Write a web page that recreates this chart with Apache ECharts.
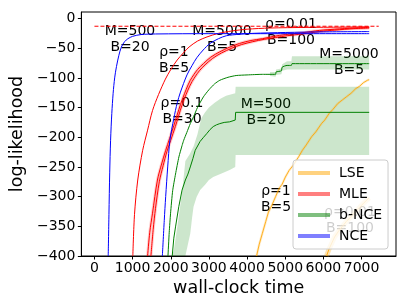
<!DOCTYPE html>
<html><head><meta charset="utf-8">
<script src="https://cdn.jsdelivr.net/npm/echarts@6/dist/echarts.min.js"></script>
<style>html,body{margin:0;padding:0;background:#fff}#c{width:407px;height:305px}</style>
</head><body><div id="c"></div>
<script>
// ---- data ----
var xTicks = [0,1000,2000,3000,4000,5000,6000,7000];
var yTicks = [-400,-350,-300,-250,-200,-150,-100,-50,0];
var legendNames = ['LSE','MLE','b-NCE','NCE'];
var optimum = [[0,-13],[7450,-13]];

var nce500 = [[361,-400],[380,-330],[400,-260],[423,-205],[455,-160],[490,-126],[530,-100],[577,-81],[640,-62],[706,-48],[790,-39],[877,-34],[1000,-30],[1222,-27],[1600,-26],[3000,-25.5],[7200,-25.5]];
var nce5000 = [[1780,-400],[1830,-340],[1867,-300],[1920,-250],[1978,-205],[2081,-168],[2170,-142],[2254,-124],[2425,-95],[2560,-79],[2683,-66],[2850,-53],[3028,-42],[3250,-34],[3456,-29],[3800,-26.5],[4145,-25],[5000,-23.5],[6000,-22.5],[7200,-22]];

var mleRho1 = [[1006,-400],[1050,-330],[1135,-272],[1264,-222],[1393,-188],[1522,-155],[1680,-128],[1860,-102],[2000,-86],[2167,-70],[2330,-58],[2480,-48],[2700,-38],[2950,-31],[3250,-25],[3600,-21],[4000,-18],[4600,-16],[5500,-15],[6500,-14.5],[7200,-14]];
var mleRho01 = [[1393,-400],[1450,-360],[1522,-328],[1651,-272],[1760,-245],[1867,-222],[1970,-202],[2081,-180],[2254,-145],[2400,-120],[2512,-104],[2700,-86],[2855,-76],[3050,-65],[3286,-56],[3550,-48],[3800,-42],[4100,-37],[4403,-34],[4700,-30],[5004,-27],[5435,-24],[5900,-20],[6294,-18],[6800,-16],[7200,-15]];
var mleRho001 = [[1480,-400],[1540,-355],[1600,-320],[1700,-275],[1800,-248],[1900,-224],[2000,-205],[2120,-182],[2290,-147],[2440,-122],[2560,-106],[2750,-88],[2900,-78],[3100,-67],[3330,-58],[3600,-50],[3850,-44],[4150,-39],[4450,-35],[4750,-32],[5050,-29],[5450,-26],[5900,-22],[6300,-19.5],[6800,-17],[7200,-16]];

var bnce5000 = [[1927,-400],[1960,-360],[1995,-328],[2050,-290],[2125,-262],[2214,-233],[2296,-214],[2340,-205],[2420,-192],[2512,-177],[2600,-165],[2700,-150],[2855,-132],[3000,-120],[3150,-110],[3286,-104],[3500,-99],[3714,-96],[4000,-95],[4400,-94],[4746,-94],[4760,-90],[4900,-88],[4919,-82],[5048,-79],[5160,-79],[5177,-76],[7200,-76]];
var bnce5000Hi = [[4600,-90],[4746,-90],[4760,-86],[4900,-84],[4919,-77],[5048,-72],[5160,-72],[5177,-63.5],[7200,-63.5]];
var bnce5000Lo = [[4600,-97],[4746,-98],[4760,-95],[4900,-94],[4919,-88],[5048,-86],[5177,-86],[7200,-86]];

var bnce500 = [[2038,-400],[2080,-370],[2125,-351],[2210,-317],[2296,-289],[2383,-272],[2450,-262],[2512,-250],[2580,-236],[2641,-222],[2770,-207],[2860,-200],[2941,-194],[3030,-187],[3113,-182],[3200,-179],[3286,-177],[3400,-175],[3544,-174],[3690,-171],[3700,-158],[7200,-158]];
var bnce500Hi = [[2030,-400],[2081,-390],[2150,-360],[2210,-334],[2300,-290],[2383,-240],[2500,-228],[2600,-215],[2700,-195],[2800,-168],[2900,-158],[3000,-150],[3150,-142],[3300,-135],[3450,-130],[3690,-126],[3700,-115],[7200,-115]];
var bnce500Lo = [[2383,-400],[2450,-380],[2512,-362],[2560,-335],[2597,-317],[2680,-300],[2770,-289],[2900,-280],[3000,-272],[3113,-267],[3300,-262],[3544,-255],[3690,-250],[3700,-230],[7200,-230]];

var lseRho1 = [[4249,-400],[4320,-380],[4400,-362],[4489,-342],[4560,-326],[4640,-316],[4747,-300],[4850,-285],[4920,-279],[5004,-267],[5100,-256],[5200,-248],[5350,-233],[5450,-222],[5550,-213],[5693,-199],[5800,-191],[5950,-177],[6036,-171],[6150,-160],[6250,-153],[6380,-143],[6500,-137],[6600,-132],[6724,-126],[6850,-118],[6950,-114],[7050,-108],[7155,-104],[7200,-103]];
var lseRho001 = [[6082,-400],[6150,-388],[6294,-368],[6400,-358],[6500,-350],[6600,-342],[6724,-334],[6850,-325],[6950,-318],[7068,-310],[7200,-302]];

// ---- chart ----
var FONT = '"DejaVu Sans", sans-serif';
var chart = echarts.init(document.getElementById('c'), null, {renderer:'canvas'});
function minus(v){ return String(v).replace('-', '\u2212'); }
function line(name, data, color, extra){
  var s = {name:name, type:'line', data:data, showSymbol:false, symbol:'none', clip:true,
    lineStyle:{color:color, width:1}, itemStyle:{color:color}, silent:true, z:3};
  if (extra) for (var k in extra) s[k]=extra[k];
  return s;
}
function band(name, hi, lo, color){
  return {name:name, type:'custom', silent:true, clip:true, z:2,
    data:[[hi[0][0], hi[0][1]]],
    renderItem:function(params, api){
      var pts = hi.map(function(p){return api.coord(p);})
        .concat(lo.slice().reverse().map(function(p){return api.coord(p);}));
      return {type:'polygon', shape:{points:pts}, style:{fill:color}};
    }};
}
var legendColors = ['rgba(255,165,0,0.5)','rgba(255,0,0,0.5)','rgba(0,128,0,0.5)','rgba(0,0,255,0.5)'];
var series = [
  band('b1', bnce5000Hi, bnce5000Lo, 'rgba(0,128,0,0.2)'),
  band('b2', bnce500Hi, bnce500Lo, 'rgba(0,128,0,0.2)'),
  line('lse1w', lseRho1, 'rgba(255,165,0,0.2)', {lineStyle:{color:'rgba(255,165,0,0.2)', width:2.5}, z:2}),
  line('lse2w', lseRho001, 'rgba(255,165,0,0.3)', {lineStyle:{color:'rgba(255,165,0,0.3)', width:5}, z:2}),
  line('m2w', mleRho01, 'rgba(255,0,0,0.2)', {lineStyle:{color:'rgba(255,0,0,0.2)', width:3}, z:2, smooth:0.3}),
  line('m3w', mleRho001, 'rgba(255,0,0,0.2)', {lineStyle:{color:'rgba(255,0,0,0.2)', width:3}, z:2, smooth:0.3}),
  line('lse1', lseRho1, 'rgba(255,165,0,0.85)'),
  line('lse2', lseRho001, 'rgba(255,165,0,0.85)'),
  line('g1', bnce5000, '#008000', {smooth:0.2}),
  line('g2', bnce500, '#008000'),
  line('m1', mleRho1, '#ff0000', {smooth:0.3}),
  line('m2', mleRho01, '#ff0000', {smooth:0.3}),
  line('m3', mleRho001, '#ff0000', {smooth:0.3}),
  line('n1', nce500, '#0000ff', {smooth:0.3}),
  line('n2', nce5000, '#0000ff', {smooth:0.3}),
  line('opt', optimum, '#ff0000', {lineStyle:{color:'#ff0000', width:1, type:[4,2]}, z:4})
];
legendNames.forEach(function(n,i){
  series.push({name:n, type:'line', data:[], color:legendColors[i], itemStyle:{color:legendColors[i]}, lineStyle:{color:legendColors[i]}});
});

function ann(text, x, y){
  return {type:'text', x:x, y:y, z:1, silent:true,
    style:{text:text, align:'center', verticalAlign:'middle', font:'14px '+FONT, fill:'#000', lineHeight:16}};
}

chart.setOption({
  animation:false,
  backgroundColor:'#fff',
  textStyle:{fontFamily:FONT},
  grid:{left:76, right:11, top:12, bottom:49, show:true, borderColor:'#000', borderWidth:1, backgroundColor:'transparent', containLabel:false},
  xAxis:{type:'value', min:-343, max:7903,
    name:'wall-clock time', nameLocation:'middle', nameGap:20,
    nameTextStyle:{fontSize:17.5, color:'#000', fontFamily:FONT},
    axisLine:{show:true, onZero:false, lineStyle:{color:'#000', width:1}},
    axisTick:{show:true, length:3.5, lineStyle:{color:'#000'}, customValues:xTicks},
    axisLabel:{fontSize:14, color:'#000', margin:5, fontFamily:FONT, customValues:xTicks, formatter:minus},
    splitLine:{show:false}},
  yAxis:{type:'value', min:-400, max:11,
    name:'log-likelihood', nameLocation:'middle', nameGap:47,
    nameTextStyle:{fontSize:17.5, color:'#000', fontFamily:FONT},
    axisLine:{show:true, onZero:false, lineStyle:{color:'#000', width:1}},
    axisTick:{show:true, length:3.5, lineStyle:{color:'#000'}, customValues:yTicks},
    axisLabel:{fontSize:14, color:'#000', margin:6, fontFamily:FONT, customValues:yTicks, formatter:minus},
    splitLine:{show:false}},
  legend:{data:legendNames, orient:'vertical', left:293, top:160, icon:'rect', itemWidth:32, itemHeight:4,
    itemGap:7, selectedMode:false, padding:[6,6,6,5], backgroundColor:'rgba(255,255,255,0.8)',
    borderColor:'#ccc', borderWidth:1, borderRadius:3, z:5,
    textStyle:{fontSize:14, color:'#000', fontFamily:FONT, padding:[0,0,0,4]}},
  graphic:[
    ann('M=500\nB=20', 130, 39),
    ann('M=5000\nB=5', 222, 39),
    ann('\u03c1=0.01\nB=100', 291, 32),
    ann('M=5000\nB=5', 349, 62.5),
    ann('\u03c1=1\nB=5', 174, 60),
    ann('\u03c1=0.1\nB=30', 182, 111),
    ann('M=500\nB=20', 266, 112),
    ann('\u03c1=1\nB=5', 276, 199.5),
    ann('\u03c1=0.01\nB=100', 350, 220.5)
  ],
  series:series
});
</script></body></html>
